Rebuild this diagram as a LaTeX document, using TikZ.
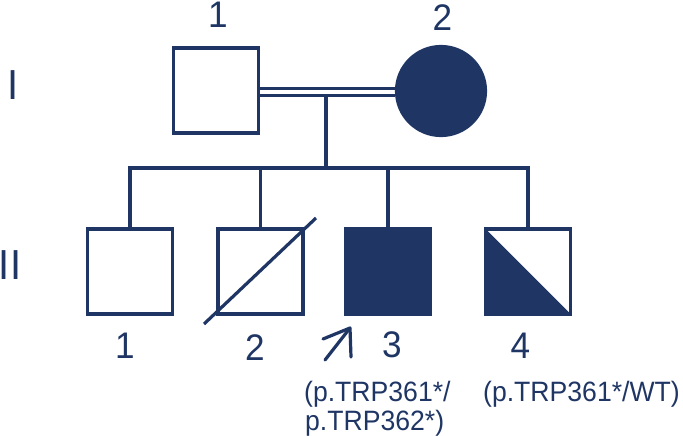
\documentclass[tikz,border=0pt]{standalone}
\usepackage{fontspec}
\setmainfont[FakeStretch=0.95]{Liberation Sans}
\usetikzlibrary{backgrounds}
\definecolor{navy}{RGB}{31,54,101}
\begin{document}
\begin{tikzpicture}[x=1pt,y=-1pt,
  male/.style={rectangle, draw=navy, line width=3.2pt, minimum size=85pt, inner sep=0pt, fill=white},
  female/.style={circle, draw=navy, line width=3.2pt, minimum size=89pt, inner sep=0pt, fill=white},
  affected/.style={fill=navy},
  carrier/.style={path picture={\fill[navy] (path picture bounding box.north west) -- (path picture bounding box.south west) -- (path picture bounding box.south east) -- cycle;}},
  conn/.style={draw=navy, line width=3.2pt},
  marriage/.style={draw=navy, line width=2.8pt, double=white, double distance=4.4pt},
  lbl/.style={text=navy, font=\fontsize{37}{40}\selectfont, inner sep=0pt},
  gen/.style={text=navy, font=\fontsize{42}{44}\selectfont, inner sep=0pt},
  geno/.style={text=navy, font=\fontsize{28}{30}\selectfont, inner sep=0pt, anchor=base west},
  probandarrow/.style={draw=navy, line width=3.2pt, line cap=round, line join=round}]
\useasboundingbox (0,0) rectangle (683,436);

% generation I
\node[male] (I1) at (216,90.5) {};
\node[female, affected] (I2) at (441,91) {};

% generation II
\node[male] (II1) at (130,271.5) {};
\node[male] (II2) at (260.5,271.5) {};
\node[male, affected] (II3) at (388,271.5) {};
\node[male, carrier] (II4) at (528,271.5) {};

\coordinate (mar) at (326,92);
\coordinate (sib) at (326,168);

\begin{scope}[on background layer]
  \draw[conn] (mar) -- (sib);
  \draw[marriage] (I1.east |- mar) -- (I2.west |- mar);
  \draw[conn] (II1.north) |- (sib) -| (II4.north);
  \draw[conn] (II2.north) -- (II2.north |- sib);
  \draw[conn] (II3.north) -- (II3.north |- sib);
\end{scope}

% deceased slash
\draw[conn] ([shift={(-56.5,52.5)}]II2.center) -- ([shift={(55.5,-53.5)}]II2.center);

% proband arrow
\coordinate (arrTail) at (325,360);
\coordinate (arrTip) at (350,328);
\coordinate (armL) at (323,339);
\coordinate (armD) at (351,357);
\draw[probandarrow] (arrTail) -- (arrTip);
\draw[probandarrow] (armL) -- (arrTip) -- (armD);

% generation labels
\node[gen] (gI) at (13,85) {I};
\node[gen] (gII) at (10,265) {II};

% individual numbers
\node[lbl] (nI1) at (218,15) {1};
\node[lbl] (nI2) at (442.5,17.5) {2};
\node[lbl] (nII1) at (125,345.5) {1};
\node[lbl] (nII2) at (255,348) {2};
\node[lbl] (nII3) at (392,345) {3};
\node[lbl] (nII4) at (520.5,346) {4};

% genotypes
\node[geno] (g3a) at (304,401.7) {(p.TRP361*/};
\node[geno] (g3b) at (305,430.5) {p.TRP362*)};
\node[geno] (g4) at (483,401.7) {(p.TRP361*/WT)};
\end{tikzpicture}
\end{document}
